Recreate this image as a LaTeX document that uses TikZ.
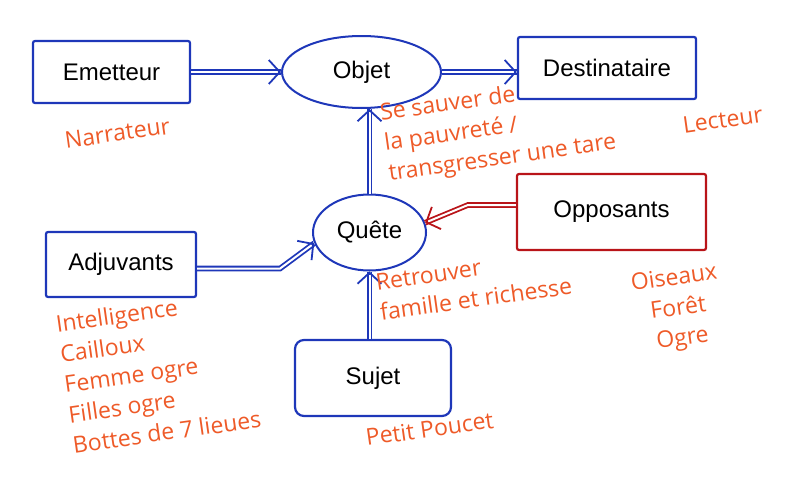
\documentclass[tikz,border=0pt]{standalone}
\usepackage{fontspec}
\setmainfont{Liberation Sans}
\newfontfamily\hand{Open Sans}
\usetikzlibrary{arrows.meta,shapes.geometric,calc}
\definecolor{bl}{RGB}{30,55,185}
\definecolor{rd}{RGB}{185,20,25}
\definecolor{og}{RGB}{238,90,40}
\begin{document}
\begin{tikzpicture}[x=1pt,y=-1pt,
  box/.style={draw=bl,line width=2.2pt,rounded corners=2pt,inner sep=0pt,font=\fontsize{24}{28}\selectfont},
  oval/.style={ellipse,draw=bl,line width=2pt,inner sep=0pt,font=\fontsize{24}{28}\selectfont},
  dbl/.style={draw=bl,line width=1.8pt,double=white,double distance=2pt},
  tipb/.style={draw=bl,line width=1.8pt,-{Straight Barb[length=11pt,width=24pt]}},
  lab/.style={text=og,font=\hand\fontsize{23}{30.5}\selectfont,rotate=8,inner sep=0pt,anchor=north west,align=left}]
\path[use as bounding box] (0,0) rectangle (797,479);
% nodes
\node[box,minimum width=157,minimum height=62] (emit) at (111.5,72) {Emetteur};
\node[oval,minimum width=159,minimum height=72] (objet) at (361.5,72) {Objet};
\node[box,minimum width=178,minimum height=62] (dest) at (607,68) {Destinataire};
\node[oval,minimum width=113,minimum height=76] (quete) at (369.5,232.5) {Quête};
\node[box,draw=rd,minimum width=189,minimum height=76] (opp) at (611.5,212) {Opposants};
\node[box,minimum width=150,minimum height=65] (adj) at (121,264.5) {Adjuvants};
\node[box,rounded corners=9pt,minimum width=156,minimum height=76] (sujet) at (373,378) {Sujet};
% connectors
\draw[dbl] (emit.east) -- (objet.west);
\draw[tipb] ($(objet.west)+(-3,0)$) -- (objet.west);
\draw[dbl] (objet.east) -- (objet.east -| dest.west);
\draw[tipb] ($(objet.east -| dest.west)+(-3,0)$) -- (objet.east -| dest.west);
\draw[dbl] (quete.north) -- (quete.north |- objet.south);
\draw[tipb] ($(quete.north |- objet.south)+(0,3)$) -- (quete.north |- objet.south);
\draw[dbl] (sujet.north -| quete.south) -- (quete.south);
\draw[tipb] ($(quete.south)+(0,3)$) -- (quete.south);
\coordinate (oc) at ($(opp.west)+(-48,-7)$);
\draw[dbl,draw=rd] ($(opp.west)+(0,-7)$) -- (oc) -- (quete.10);
\draw[tipb,draw=rd] ($(quete.10)!3pt!(oc)$) -- (quete.10);
\coordinate (ac) at ($(adj.east)+(83,4)$);
\draw[dbl] ($(adj.east)+(0,4)$) -- (ac) -- (quete.191);
\draw[tipb] ($(quete.191)!3pt!(ac)$) -- (quete.191);
% labels
\node[lab] (narr) at (63.6,132) {Narrateur};
\node[lab] (lect) at (681.6,117) {Lecteur};
\node[lab] (obj) at (378.6,103) {Se sauver de\\la pauvreté /\\transgresser une tare};
\node[lab] (ret) at (374.6,274) {Retrouver\\famille et richesse};
\node[lab,align=center] (oppl) at (629.6,274) {Oiseaux\\Forêt\\Ogre};
\node[lab] (adjl) at (54.6,315) {Intelligence\\Cailloux\\Femme ogre\\Filles ogre\\Bottes de 7 lieues};
\node[lab] (suj) at (364.6,429) {Petit Poucet};
\end{tikzpicture}
\end{document}
